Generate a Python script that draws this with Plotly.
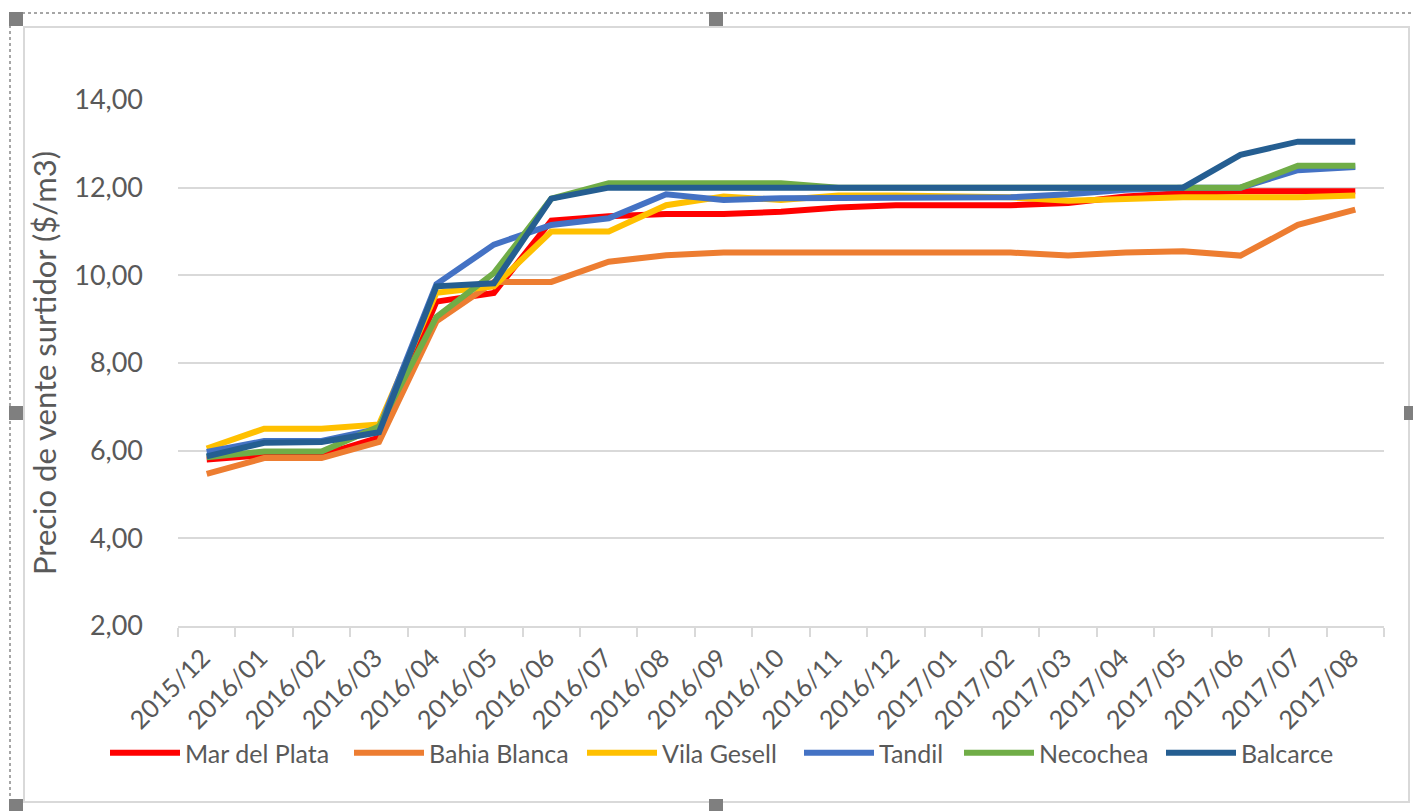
import plotly.graph_objects as go

categories = ["2015/12", "2016/01", "2016/02", "2016/03", "2016/04", "2016/05", "2016/06",
              "2016/07", "2016/08", "2016/09", "2016/10", "2016/11", "2016/12", "2017/01",
              "2017/02", "2017/03", "2017/04", "2017/05", "2017/06", "2017/07", "2017/08"]

mar_del_plata = [5.80, 5.90, 5.90, 6.30, 9.40, 9.60, 11.25, 11.35, 11.40, 11.40, 11.45, 11.55,
                 11.60, 11.60, 11.60, 11.65, 11.80, 11.88, 11.92, 11.92, 11.92]
bahia_blanca = [5.47, 5.83, 5.83, 6.20, 8.95, 9.85, 9.85, 10.31, 10.46, 10.52, 10.52, 10.52,
                10.52, 10.52, 10.52, 10.45, 10.52, 10.55, 10.45, 11.15, 11.50]
vila_gesell = [6.05, 6.50, 6.50, 6.60, 9.60, 9.75, 11.00, 11.00, 11.60, 11.80, 11.72, 11.82,
               11.82, 11.80, 11.78, 11.70, 11.75, 11.78, 11.78, 11.78, 11.82]
tandil = [5.97, 6.22, 6.22, 6.50, 9.80, 10.70, 11.15, 11.30, 11.85, 11.72, 11.76, 11.76,
          11.78, 11.78, 11.78, 11.85, 11.95, 12.00, 12.00, 12.40, 12.47]
necochea = [5.85, 5.98, 5.98, 6.55, 9.05, 10.05, 11.75, 12.10, 12.10, 12.10, 12.10, 12.00,
            12.00, 12.00, 12.00, 12.00, 12.00, 12.00, 12.00, 12.50, 12.50]
balcarce = [5.87, 6.18, 6.20, 6.42, 9.75, 9.82, 11.75, 12.00, 12.00, 12.00, 12.00, 12.00,
            12.00, 12.00, 12.00, 12.00, 12.00, 12.00, 12.75, 13.05, 13.05]

series_names = ["Mar del Plata", "Bahia Blanca", "Vila Gesell", "Tandil", "Necochea", "Balcarce"]
series_values = [mar_del_plata, bahia_blanca, vila_gesell, tandil, necochea, balcarce]
series_colors = ["#FF0000", "#ED7D31", "#FFC000", "#4472C4", "#70AD47", "#255E91"]

y_title = "Precio de vente surtidor ($/m3)"

W, H = 1413, 811
ML, MR, MT, MB = 178, 29, 100, 185
PW, PH = W - ML - MR, H - MT - MB

FONT = "Lato, Open Sans, sans-serif"
TXT = "#595959"

legend_x_px = [110, 354, 587, 804, 964, 1166]
legend_ids = ["legend", "legend2", "legend3", "legend4", "legend5", "legend6"]

fig = go.Figure()
for name, vals, col, lid in zip(series_names, series_values, series_colors, legend_ids):
    fig.add_trace(go.Scatter(x=categories, y=vals, name=name, mode="lines",
                             line=dict(color=col, width=6), legend=lid))


def px_x(px):
    return (px - ML) / PW


def px_y(py):
    return (H - MB - py) / PH


shapes = []
shapes.append(dict(type="rect", xref="paper", yref="paper",
                   x0=px_x(24), x1=px_x(1409), y0=px_y(802), y1=px_y(27),
                   line=dict(color="#D9D9D9", width=2), fillcolor="rgba(0,0,0,0)", layer="below"))
shapes.append(dict(type="line", xref="paper", yref="paper",
                   x0=px_x(10), x1=px_x(1413), y0=px_y(13), y1=px_y(13),
                   line=dict(color="#A6A6A6", width=2, dash="dot")))
shapes.append(dict(type="line", xref="paper", yref="paper",
                   x0=px_x(10), x1=px_x(10), y0=px_y(13), y1=px_y(811),
                   line=dict(color="#A6A6A6", width=2, dash="dot")))
for (cx, cy) in [(16, 19), (716, 19), (16, 413), (1411, 413), (16, 806), (716, 806)]:
    shapes.append(dict(type="rect", xref="paper", yref="paper",
                       x0=px_x(cx - 7), x1=px_x(cx + 7), y0=px_y(cy + 7), y1=px_y(cy - 7),
                       line=dict(color="#7F7F7F", width=0), fillcolor="#7F7F7F"))

layout_legends = {}
for lid, lx in zip(legend_ids, legend_x_px):
    layout_legends[lid] = dict(orientation="h", xref="container", yref="container",
                               x=(lx - 5) / W, xanchor="left", y=(H - 753) / H,
                               yanchor="middle", font=dict(size=25, color=TXT),
                               itemwidth=70, bgcolor="rgba(0,0,0,0)")

fig.update_layout(
    width=W, height=H,
    margin=dict(l=ML, r=MR, t=MT, b=MB, autoexpand=False),
    paper_bgcolor="white", plot_bgcolor="white",
    separators=", ",
    font=dict(family=FONT, color=TXT, size=24),
    showlegend=True,
    shapes=shapes,
    xaxis=dict(type="category", range=[-0.5, len(categories) - 0.5],
               tickson="boundaries", ticks="outside", ticklen=9,
               tickcolor="#D9D9D9", tickwidth=2, showline=True, linecolor="#D9D9D9",
               linewidth=2, showgrid=False, tickangle=-45, ticklabelstandoff=5,
               ticklabelshift=-4, tickfont=dict(size=25.5, color=TXT), fixedrange=True),
    yaxis=dict(range=[2, 14], dtick=2, tickformat=".2f", showgrid=True,
               gridcolor="#D9D9D9", gridwidth=2, zeroline=False, showline=False,
               ticks="", ticklabelstandoff=34, tickfont=dict(size=27, color=TXT),
               title=dict(text=y_title, font=dict(size=31, color=TXT), standoff=8)),
    **layout_legends,
)

fig.write_html("out.html", post_script="document.body.style.margin='0px';",
               config={"displayModeBar": False})
